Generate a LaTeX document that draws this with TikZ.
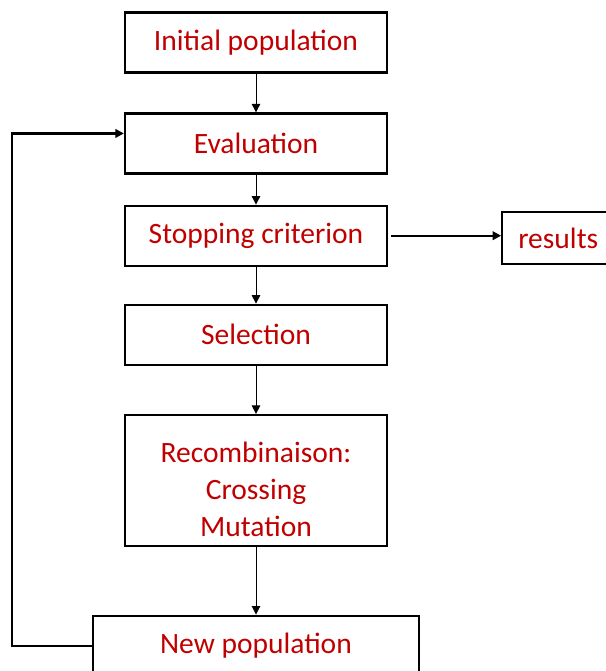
\documentclass[tikz,border=0pt]{standalone}
\usepackage{fontspec}
\setmainfont{Carlito}
\usepackage{xcolor}
\usetikzlibrary{arrows.meta,positioning}
\definecolor{darkred}{RGB}{192,0,0}

\begin{document}
\begin{tikzpicture}[
    node distance=1cm,
    font=\fontsize{21}{26}\selectfont,
    box/.style={rectangle, draw=black, line width=1.6pt, text=darkred, align=center, minimum width=6.55cm, minimum height=1.5cm, inner sep=0pt},
    arrow/.style={-{Triangle[length=6pt,width=6pt]}, draw=black, line width=0.7pt},
    thickarrow/.style={-{Triangle[length=6pt,width=6pt]}, draw=black, line width=1.6pt}
]
    \useasboundingbox (0,0) rectangle (15.125,-16.775);

    % Node layout
    \node[box] (init) at (6.4,-1.06) {Initial population};
    \node[box, below=0.97cm of init] (eval) {Evaluation};
    \node[box, below=0.75cm of eval] (stop) {Stopping criterion};
    \node[box, below=0.92cm of stop] (sel) {Selection};
    \node[box, below=1.2cm of sel, minimum height=3.28cm] (recomb) {\rule{0pt}{27pt}Recombinaison:\\Crossing\\Mutation};
    \node[box, below=1.68cm of recomb, minimum width=8.15cm] (newpop) {New population};

    % Output side-node
    \node[box, right=2.825cm of stop, yshift=-0.06cm, minimum width=2.8cm, minimum height=1.3cm] (results) {results};

    % Connections
    \draw[arrow] (init) -- (eval);
    \draw[arrow] (eval) -- (stop);
    \draw[arrow] (stop) -- (sel);
    \draw[arrow] (sel) -- (recomb);
    \draw[arrow] (recomb) -- (newpop);
    \draw[thickarrow, shorten <=2pt] (stop.east) -- (stop.east -| results.west);

    % Loop back from new population to evaluation
    \coordinate (loop) at (0.3,0);
    \draw[thickarrow] (newpop.west) -- (newpop.west -| loop) |- ([yshift=0.25cm]eval.west);
\end{tikzpicture}
\end{document}
